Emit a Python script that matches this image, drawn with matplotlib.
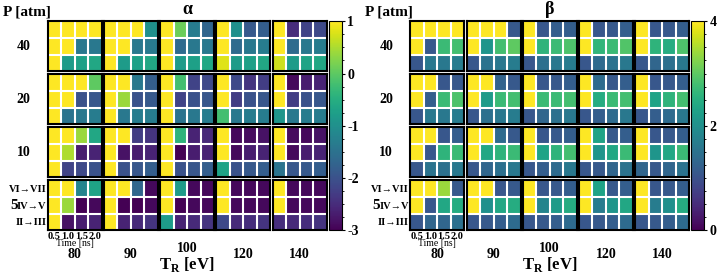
import numpy as np
import matplotlib.pyplot as plt
from matplotlib.ticker import MultipleLocator

plt.rcParams['font.family'] = ['Liberation Serif', 'DejaVu Serif']
plt.rcParams['font.weight'] = 'bold'
plt.rcParams['axes.unicode_minus'] = False

pressures = [40, 20, 10, 5]
temps = [80, 90, 100, 120, 140]
times = ['0.5', '1.0', '1.5', '2.0']
transitions = ['VI→VII', 'IV→V', 'II→III']

# alpha, one 3x4 block per T_R (rows VI->VII, IV->V, II->III; cols time)
alpha_P40 = [
    [[1, 1, 1, 1], [1, 1, -1.4, -1.4], [1, -0.8, -0.72, -0.6]],
    [[1, 1, 1, -1.0], [1, 1, -1.4, -1.35], [1, -0.8, -0.72, -0.6]],
    [[1, 0.1, -1.32, -1.7], [1, -1.6, -1.4, -1.4], [1, -0.8, -0.72, -0.6]],
    [[1, -1.0, -1.88, -1.8], [1, -1.6, -1.4, -1.32], [0.8, -0.8, -0.72, -0.6]],
    [[1, -2.5, -2.2, -2.12], [1, -1.6, -1.4, -1.32], [0.7, -0.8, -0.68, -0.6]],
]
alpha_P20 = [
    [[1, 1, 1, 0.0], [1, 1, -2.0, -1.92], [1, -1.48, -1.4, -1.32]],
    [[1, 1, -1.4, -1.8], [1, 0.4, -2.0, -1.88], [1, -1.4, -1.32, -1.32]],
    [[1, -0.2, -2.2, -2.12], [1, -2.2, -2.0, -1.92], [1, -1.48, -1.4, -1.32]],
    [[1, -2.12, -2.4, -2.28], [1, -2.28, -2.0, -1.92], [-0.2, -1.4, -1.32, -1.32]],
    [[1, -2.92, -2.68, -2.6], [1, -2.28, -2.0, -1.92], [-0.92, -1.4, -1.32, -1.32]],
]
alpha_P10 = [
    [[1, 1, 0.4, -0.6], [1, 0.5, -2.68, -2.6], [1, -2.2, -2.12, -2.0]],
    [[1, 1, -2.28, -2.4], [1, -2.8, -2.68, -2.6], [1, -2.0, -1.92, -1.8]],
    [[1, -0.4, -2.6, -2.52], [1, -3.0, -2.68, -2.6], [1, -2.0, -1.92, -1.8]],
    [[1, -2.92, -2.88, -2.8], [1, -2.92, -2.68, -2.6], [-0.68, -2.0, -1.88, -1.8]],
    [[1, -2.88, -2.92, -2.8], [1, -2.92, -2.68, -2.6], [-1.48, -1.92, -1.88, -1.8]],
]
alpha_P5 = [
    [[1, 1, -1.2, -0.68], [1, 0.4, -3.0, -2.92], [1, -2.8, -2.68, -2.6]],
    [[1, 1, -1.68, -2.92], [1, -3.0, -3.0, -2.92], [1, -2.6, -2.52, -2.4]],
    [[1, -0.8, -2.92, -2.92], [1, -3.0, -2.92, -2.92], [-0.8, -2.6, -2.52, -2.4]],
    [[1, -2.92, -2.92, -2.92], [1, -2.92, -2.92, -2.92], [-2.12, -2.52, -2.48, -2.4]],
    [[1, -2.92, -2.92, -2.92], [1, -2.92, -2.92, -2.92], [-2.48, -2.52, -2.48, -2.4]],
]

beta_P40 = [
    [[4, 4, 4, 4], [4, 1.12, 2.72, 2.8], [1.08, 1.6, 1.6, 1.68]],
    [[4, 4, 4, 1.12], [4, 2.08, 2.8, 3.0], [1.08, 1.52, 1.6, 1.68]],
    [[4, 1.08, 1.2, 1.2], [4, 2.6, 2.72, 2.88], [1.08, 1.48, 1.6, 1.68]],
    [[4, 1.08, 1.12, 1.2], [4, 2.64, 2.72, 2.92], [1.08, 1.4, 1.52, 1.6]],
    [[4, 1.08, 1.12, 1.2], [4, 2.6, 2.48, 2.88], [1.08, 1.32, 1.48, 1.6]],
]
beta_P20 = [
    [[4, 4, 1.08, 1.12], [4, 1.2, 2.72, 2.88], [1.08, 1.6, 1.6, 1.68]],
    [[4, 4, 1.28, 1.12], [4, 2.2, 2.72, 2.8], [1.08, 1.48, 1.6, 1.68]],
    [[4, 1.08, 1.12, 1.2], [4, 2.72, 2.72, 2.8], [1.08, 1.32, 1.48, 1.6]],
    [[4, 1.4, 1.12, 1.2], [4, 2.48, 2.72, 2.8], [1.08, 1.2, 1.4, 1.6]],
    [[4, 1.08, 1.12, 1.2], [4, 2.32, 2.6, 2.8], [1.08, 1.2, 1.4, 1.6]],
]
beta_P10 = [
    [[4, 4, 1.08, 1.2], [4, 1.08, 2.6, 2.72], [1.08, 1.52, 1.48, 1.6]],
    [[4, 4, 1.4, 1.12], [4, 2.4, 2.6, 2.72], [1.08, 1.32, 1.48, 1.6]],
    [[4, 1.08, 1.12, 1.2], [4, 2.32, 2.6, 2.8], [1.08, 1.2, 1.4, 1.6]],
    [[4, 2.32, 1.12, 1.2], [4, 2.08, 2.4, 2.72], [1.08, 1.12, 1.32, 1.52]],
    [[4, 1.08, 1.12, 1.2], [4, 2.08, 2.4, 2.72], [1.32, 1.12, 1.32, 1.52]],
]
beta_P5 = [
    [[4, 4, 3.4, 1.12], [4, 1.08, 2.4, 2.48], [1.08, 1.32, 1.32, 1.48]],
    [[4, 4, 1.08, 1.12], [4, 2.0, 2.4, 2.48], [1.08, 1.12, 1.2, 1.4]],
    [[4, 1.08, 1.12, 1.2], [4, 1.8, 2.2, 2.48], [1.08, 1.12, 1.2, 1.4]],
    [[4, 2.32, 1.12, 1.2], [4, 1.68, 2.08, 2.4], [1.08, 1.12, 1.2, 1.4]],
    [[4, 1.08, 1.12, 1.2], [4, 1.68, 2.0, 2.48], [1.08, 1.12, 1.2, 1.4]],
]

W, H = 720, 274
fig = plt.figure(figsize=(W / 100, H / 100), dpi=100)


def box(x, y, w, h):
    # pixel box (from top-left) -> figure fraction
    return [x / W, 1 - (y + h) / H, w / W, h / H]


row_tops = [21.3, 74.2, 127.2, 180.2]
sub_h = 50
sub_w = 54
step = 56.2


def panel(blocks, x0, vmin, vmax, title, cticks):
    im = None
    for r, p in enumerate(pressures):
        for c, t in enumerate(temps):
            ax = fig.add_axes(box(x0 + c * step, row_tops[r], sub_w, sub_h))
            im = ax.imshow(np.array(blocks[r][c]), cmap='viridis', vmin=vmin, vmax=vmax,
                           aspect='auto', interpolation='nearest')
            for yy in [0.5, 1.5]:
                ax.axhline(yy, color='white', lw=1.5)
            for xx in [0.5, 1.5, 2.5]:
                ax.axvline(xx, color='white', lw=1.5)
            for s in ax.spines.values():
                s.set_linewidth(1.5)
                s.set_color('black')
            ax.tick_params(length=0, pad=1)
            if r == 3 and c == 0:
                ax.set_xticks(range(4))
                ax.set_xticklabels(times, fontsize=7.5)
                ax.set_yticks(range(3))
                ax.set_yticklabels(transitions, fontsize=7.5)
                ax.set_xlabel('Time [ns]', fontsize=7, labelpad=-1)
            else:
                ax.set_xticks([])
                ax.set_yticks([])
    cax = fig.add_axes(box(x0 + 4 * step + sub_w + 2, row_tops[0], 13, row_tops[3] + sub_h - row_tops[0]))
    cb = fig.colorbar(im, cax=cax)
    cb.set_ticks(cticks)
    cb.ax.yaxis.set_minor_locator(MultipleLocator(0.25))
    cb.ax.tick_params(which='major', length=2.5, labelsize=10, pad=1.5)
    cb.ax.tick_params(which='minor', length=1.5)
    cb.outline.set_linewidth(0.8)
    fig.text((x0 + (4 * step + sub_w) / 2) / W, 1 - 10 / H, title, fontsize=13,
             ha='center', va='center')
    fig.text((x0 - 45) / W, 1 - 12 / H, 'P [atm]', fontsize=11, ha='left', va='center')
    for r, p in enumerate(pressures):
        if p == 5:
            fig.text((x0 - 34) / W, 1 - (row_tops[r] + sub_h / 2) / H, str(p), fontsize=11,
                     ha='center', va='center')
        else:
            fig.text((x0 - 24) / W, 1 - (row_tops[r] + sub_h / 2) / H, str(p), fontsize=10,
                     ha='center', va='center')
    for c, t in enumerate(temps):
        yy = 248 if t == 100 else 255
        fig.text((x0 + c * step + sub_w / 2) / W, 1 - yy / H, str(t), fontsize=10,
                 ha='center', va='center')
    fig.text((x0 + 2 * step + sub_w / 2) / W, 1 - 265 / H, r'T$_\mathregular{R}$ [eV]',
             fontsize=12, ha='center', va='center')


panel([alpha_P40, alpha_P20, alpha_P10, alpha_P5], 47.7, -3, 1, 'α', [1, 0, -1, -2, -3])
panel([beta_P40, beta_P20, beta_P10, beta_P5], 410.3, 0, 4, 'β', [4, 2, 0])

fig.savefig('out.png', dpi=100)
